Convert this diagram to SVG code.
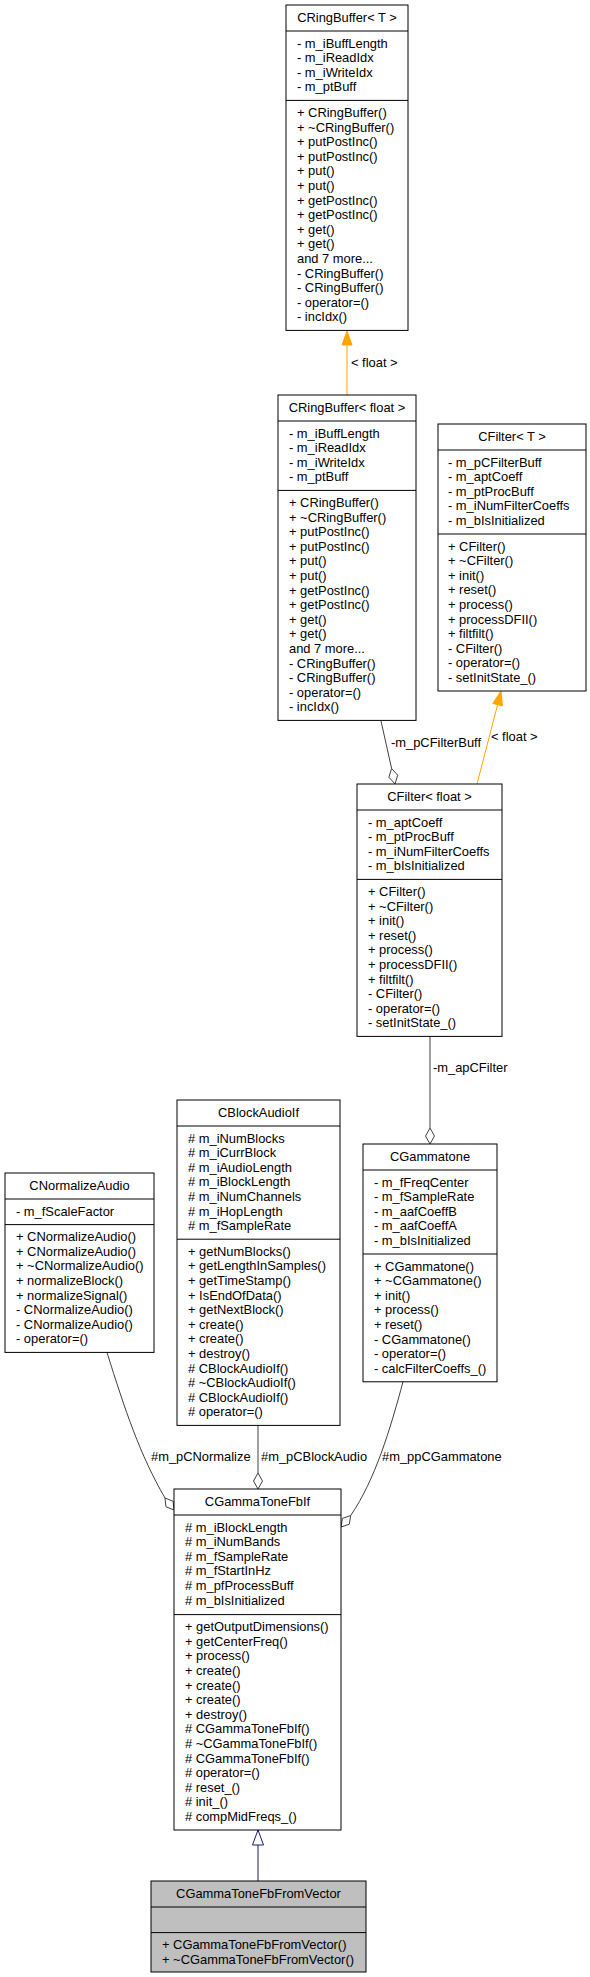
<svg xmlns="http://www.w3.org/2000/svg" width="590" height="1977" viewBox="0 0 590 1977">
<style>
text{font-family:"Liberation Sans",Arial,sans-serif;font-size:12.9px;fill:#000}
.t{text-anchor:middle}
.box{fill:#fff;stroke:#000;stroke-width:1}
.gray{fill:#bfbfbf;stroke:#000;stroke-width:1}
.sep{stroke:#000;stroke-width:1}
.agg{fill:none;stroke:#404040;stroke-width:1}
.dia{fill:#fff;stroke:#404040;stroke-width:1}
.tpl{fill:none;stroke:#ffa500;stroke-width:1}
.tplh{fill:#ffa500;stroke:#ffa500;stroke-width:1}
.inh{fill:none;stroke:#191970;stroke-width:1}
.inhh{fill:#fff;stroke:#191970;stroke-width:1}
</style>
<g id="connectors">
<path class="tpl" d="M347,395 L347,345"/>
<polygon class="tplh" points="347,331 342,345 352,345"/>
<text x="351" y="367">&lt; float &gt;</text>
<path class="agg" d="M381,721 L391.6,768.4"/>
<polygon class="dia" points="395,784 397.7,775.2 391.6,768.4 388.9,777.2"/>
<text x="391" y="747">-m_pCFilterBuff</text>
<path class="tpl" d="M477,784 L497.6,704.6"/>
<polygon class="tplh" points="501,691 502.4,705.8 492.8,703.4"/>
<text x="491" y="741">&lt; float &gt;</text>
<path class="agg" d="M430,1036.4 L430,1128"/>
<polygon class="dia" points="430,1144 434.5,1136 430,1128 425.5,1136"/>
<text x="433" y="1072">-m_apCFilter</text>
<path class="agg" d="M107,1352.4 C125,1410 140,1455 165,1498"/>
<polygon class="dia" points="174,1510 173.1,1501.3 165,1498 165.9,1506.7"/>
<text x="151" y="1461">#m_pCNormalize</text>
<path class="agg" d="M258,1425.4 L258,1473"/>
<polygon class="dia" points="258,1489 262.5,1481 258,1473 253.5,1481"/>
<text x="261" y="1461">#m_pCBlockAudio</text>
<path class="agg" d="M403,1381.8 C390,1430 375,1480 350.7,1515.5"/>
<polygon class="dia" points="341,1527 349.3,1524.2 350.7,1515.5 342.4,1518.4"/>
<text x="382" y="1461">#m_ppCGammatone</text>
<path class="inh" d="M258,1881 L258,1845"/>
<polygon class="inhh" points="258,1830 252.5,1845 263.5,1845"/>
</g>
<g id="CRingBufferT">
<rect class="box" x="286" y="5" width="122" height="325.4"/>
<line class="sep" x1="286" y1="31" x2="408" y2="31"/>
<line class="sep" x1="286" y1="100.4" x2="408" y2="100.4"/>
<text class="t" x="347" y="22">CRingBuffer&lt; T &gt;</text>
<text x="297" y="47.5"><tspan x="297">- m_iBuffLength</tspan><tspan x="297" dy="14.6">- m_iReadIdx</tspan><tspan x="297" dy="14.6">- m_iWriteIdx</tspan><tspan x="297" dy="14.6">- m_ptBuff</tspan></text>
<text x="297" y="116.9"><tspan x="297">+ CRingBuffer()</tspan><tspan x="297" dy="14.6">+ ~CRingBuffer()</tspan><tspan x="297" dy="14.6">+ putPostInc()</tspan><tspan x="297" dy="14.6">+ putPostInc()</tspan><tspan x="297" dy="14.6">+ put()</tspan><tspan x="297" dy="14.6">+ put()</tspan><tspan x="297" dy="14.6">+ getPostInc()</tspan><tspan x="297" dy="14.6">+ getPostInc()</tspan><tspan x="297" dy="14.6">+ get()</tspan><tspan x="297" dy="14.6">+ get()</tspan><tspan x="297" dy="14.6">and 7 more...</tspan><tspan x="297" dy="14.6">- CRingBuffer()</tspan><tspan x="297" dy="14.6">- CRingBuffer()</tspan><tspan x="297" dy="14.6">- operator=()</tspan><tspan x="297" dy="14.6">- incIdx()</tspan></text>
</g>
<g id="CRingBufferFloat">
<rect class="box" x="278" y="395" width="138" height="325.4"/>
<line class="sep" x1="278" y1="421" x2="416" y2="421"/>
<line class="sep" x1="278" y1="490.4" x2="416" y2="490.4"/>
<text class="t" x="347" y="412">CRingBuffer&lt; float &gt;</text>
<text x="289" y="437.5"><tspan x="289">- m_iBuffLength</tspan><tspan x="289" dy="14.6">- m_iReadIdx</tspan><tspan x="289" dy="14.6">- m_iWriteIdx</tspan><tspan x="289" dy="14.6">- m_ptBuff</tspan></text>
<text x="289" y="506.9"><tspan x="289">+ CRingBuffer()</tspan><tspan x="289" dy="14.6">+ ~CRingBuffer()</tspan><tspan x="289" dy="14.6">+ putPostInc()</tspan><tspan x="289" dy="14.6">+ putPostInc()</tspan><tspan x="289" dy="14.6">+ put()</tspan><tspan x="289" dy="14.6">+ put()</tspan><tspan x="289" dy="14.6">+ getPostInc()</tspan><tspan x="289" dy="14.6">+ getPostInc()</tspan><tspan x="289" dy="14.6">+ get()</tspan><tspan x="289" dy="14.6">+ get()</tspan><tspan x="289" dy="14.6">and 7 more...</tspan><tspan x="289" dy="14.6">- CRingBuffer()</tspan><tspan x="289" dy="14.6">- CRingBuffer()</tspan><tspan x="289" dy="14.6">- operator=()</tspan><tspan x="289" dy="14.6">- incIdx()</tspan></text>
</g>
<g id="CFilterT">
<rect class="box" x="438" y="424" width="148" height="267"/>
<line class="sep" x1="438" y1="450" x2="586" y2="450"/>
<line class="sep" x1="438" y1="534" x2="586" y2="534"/>
<text class="t" x="512" y="441">CFilter&lt; T &gt;</text>
<text x="448" y="466.5"><tspan x="448">- m_pCFilterBuff</tspan><tspan x="448" dy="14.6">- m_aptCoeff</tspan><tspan x="448" dy="14.6">- m_ptProcBuff</tspan><tspan x="448" dy="14.6">- m_iNumFilterCoeffs</tspan><tspan x="448" dy="14.6">- m_bIsInitialized</tspan></text>
<text x="448" y="550.5"><tspan x="448">+ CFilter()</tspan><tspan x="448" dy="14.6">+ ~CFilter()</tspan><tspan x="448" dy="14.6">+ init()</tspan><tspan x="448" dy="14.6">+ reset()</tspan><tspan x="448" dy="14.6">+ process()</tspan><tspan x="448" dy="14.6">+ processDFII()</tspan><tspan x="448" dy="14.6">+ filtfilt()</tspan><tspan x="448" dy="14.6">- CFilter()</tspan><tspan x="448" dy="14.6">- operator=()</tspan><tspan x="448" dy="14.6">- setInitState_()</tspan></text>
</g>
<g id="CFilterFloat">
<rect class="box" x="357" y="784" width="145" height="252.4"/>
<line class="sep" x1="357" y1="810" x2="502" y2="810"/>
<line class="sep" x1="357" y1="879.4" x2="502" y2="879.4"/>
<text class="t" x="429.5" y="801">CFilter&lt; float &gt;</text>
<text x="368" y="826.5"><tspan x="368">- m_aptCoeff</tspan><tspan x="368" dy="14.6">- m_ptProcBuff</tspan><tspan x="368" dy="14.6">- m_iNumFilterCoeffs</tspan><tspan x="368" dy="14.6">- m_bIsInitialized</tspan></text>
<text x="368" y="895.9"><tspan x="368">+ CFilter()</tspan><tspan x="368" dy="14.6">+ ~CFilter()</tspan><tspan x="368" dy="14.6">+ init()</tspan><tspan x="368" dy="14.6">+ reset()</tspan><tspan x="368" dy="14.6">+ process()</tspan><tspan x="368" dy="14.6">+ processDFII()</tspan><tspan x="368" dy="14.6">+ filtfilt()</tspan><tspan x="368" dy="14.6">- CFilter()</tspan><tspan x="368" dy="14.6">- operator=()</tspan><tspan x="368" dy="14.6">- setInitState_()</tspan></text>
</g>
<g id="CNormalizeAudio">
<rect class="box" x="5" y="1173" width="149" height="179.4"/>
<line class="sep" x1="5" y1="1199" x2="154" y2="1199"/>
<line class="sep" x1="5" y1="1224.6" x2="154" y2="1224.6"/>
<text class="t" x="79.5" y="1190">CNormalizeAudio</text>
<text x="16" y="1215.5">- m_fScaleFactor</text>
<text x="16" y="1241.1"><tspan x="16">+ CNormalizeAudio()</tspan><tspan x="16" dy="14.6">+ CNormalizeAudio()</tspan><tspan x="16" dy="14.6">+ ~CNormalizeAudio()</tspan><tspan x="16" dy="14.6">+ normalizeBlock()</tspan><tspan x="16" dy="14.6">+ normalizeSignal()</tspan><tspan x="16" dy="14.6">- CNormalizeAudio()</tspan><tspan x="16" dy="14.6">- CNormalizeAudio()</tspan><tspan x="16" dy="14.6">- operator=()</tspan></text>
</g>
<g id="CBlockAudioIf">
<rect class="box" x="177" y="1100" width="163" height="325.4"/>
<line class="sep" x1="177" y1="1126" x2="340" y2="1126"/>
<line class="sep" x1="177" y1="1239.2" x2="340" y2="1239.2"/>
<text class="t" x="258.5" y="1117">CBlockAudioIf</text>
<text x="188" y="1142.5"><tspan x="188"># m_iNumBlocks</tspan><tspan x="188" dy="14.6"># m_iCurrBlock</tspan><tspan x="188" dy="14.6"># m_iAudioLength</tspan><tspan x="188" dy="14.6"># m_iBlockLength</tspan><tspan x="188" dy="14.6"># m_iNumChannels</tspan><tspan x="188" dy="14.6"># m_iHopLength</tspan><tspan x="188" dy="14.6"># m_fSampleRate</tspan></text>
<text x="188" y="1255.7"><tspan x="188">+ getNumBlocks()</tspan><tspan x="188" dy="14.6">+ getLengthInSamples()</tspan><tspan x="188" dy="14.6">+ getTimeStamp()</tspan><tspan x="188" dy="14.6">+ IsEndOfData()</tspan><tspan x="188" dy="14.6">+ getNextBlock()</tspan><tspan x="188" dy="14.6">+ create()</tspan><tspan x="188" dy="14.6">+ create()</tspan><tspan x="188" dy="14.6">+ destroy()</tspan><tspan x="188" dy="14.6"># CBlockAudioIf()</tspan><tspan x="188" dy="14.6"># ~CBlockAudioIf()</tspan><tspan x="188" dy="14.6"># CBlockAudioIf()</tspan><tspan x="188" dy="14.6"># operator=()</tspan></text>
</g>
<g id="CGammatone">
<rect class="box" x="363" y="1144" width="134" height="237.8"/>
<line class="sep" x1="363" y1="1170" x2="497" y2="1170"/>
<line class="sep" x1="363" y1="1254" x2="497" y2="1254"/>
<text class="t" x="430" y="1161">CGammatone</text>
<text x="374" y="1186.5"><tspan x="374">- m_fFreqCenter</tspan><tspan x="374" dy="14.6">- m_fSampleRate</tspan><tspan x="374" dy="14.6">- m_aafCoeffB</tspan><tspan x="374" dy="14.6">- m_aafCoeffA</tspan><tspan x="374" dy="14.6">- m_bIsInitialized</tspan></text>
<text x="374" y="1270.5"><tspan x="374">+ CGammatone()</tspan><tspan x="374" dy="14.6">+ ~CGammatone()</tspan><tspan x="374" dy="14.6">+ init()</tspan><tspan x="374" dy="14.6">+ process()</tspan><tspan x="374" dy="14.6">+ reset()</tspan><tspan x="374" dy="14.6">- CGammatone()</tspan><tspan x="374" dy="14.6">- operator=()</tspan><tspan x="374" dy="14.6">- calcFilterCoeffs_()</tspan></text>
</g>
<g id="CGammaToneFbIf">
<rect class="box" x="174" y="1489" width="167" height="341"/>
<line class="sep" x1="174" y1="1515" x2="341" y2="1515"/>
<line class="sep" x1="174" y1="1614.6" x2="341" y2="1614.6"/>
<text class="t" x="257.5" y="1506">CGammaToneFbIf</text>
<text x="185" y="1531.5"><tspan x="185"># m_iBlockLength</tspan><tspan x="185" dy="14.6"># m_iNumBands</tspan><tspan x="185" dy="14.6"># m_fSampleRate</tspan><tspan x="185" dy="14.6"># m_fStartInHz</tspan><tspan x="185" dy="14.6"># m_pfProcessBuff</tspan><tspan x="185" dy="14.6"># m_bIsInitialized</tspan></text>
<text x="185" y="1631.1"><tspan x="185">+ getOutputDimensions()</tspan><tspan x="185" dy="14.6">+ getCenterFreq()</tspan><tspan x="185" dy="14.6">+ process()</tspan><tspan x="185" dy="14.6">+ create()</tspan><tspan x="185" dy="14.6">+ create()</tspan><tspan x="185" dy="14.6">+ create()</tspan><tspan x="185" dy="14.6">+ destroy()</tspan><tspan x="185" dy="14.6"># CGammaToneFbIf()</tspan><tspan x="185" dy="14.6"># ~CGammaToneFbIf()</tspan><tspan x="185" dy="14.6"># CGammaToneFbIf()</tspan><tspan x="185" dy="14.6"># operator=()</tspan><tspan x="185" dy="14.6"># reset_()</tspan><tspan x="185" dy="14.6"># init_()</tspan><tspan x="185" dy="14.6"># compMidFreqs_()</tspan></text>
</g>
<g id="CGammaToneFbFromVector">
<rect class="gray" x="151" y="1881" width="215" height="91"/>
<line class="sep" x1="151" y1="1907" x2="366" y2="1907"/>
<line class="sep" x1="151" y1="1932.6" x2="366" y2="1932.6"/>
<text class="t" x="258.5" y="1898">CGammaToneFbFromVector</text>
<text x="162" y="1949.1"><tspan x="162">+ CGammaToneFbFromVector()</tspan><tspan x="162" dy="14.6">+ ~CGammaToneFbFromVector()</tspan></text>
</g>
</svg>
